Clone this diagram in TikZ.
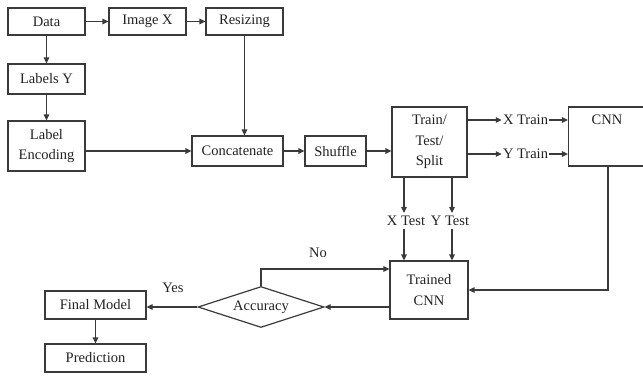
\documentclass[tikz,border=0pt]{standalone}
\usepackage{fontspec}
\setmainfont{Liberation Serif}
\usetikzlibrary{shapes.geometric,arrows.meta}
\definecolor{ln}{HTML}{3A3A3A}
\definecolor{tx}{HTML}{222222}
\begin{document}
\begin{tikzpicture}[x=1pt,y=-1pt,
  every node/.style={text=tx,font=\fontsize{14.5}{20.5}\selectfont},
  box/.style={draw=ln,line width=1.2pt,fill=white,align=center,inner sep=1pt},
  lbl/.style={inner sep=1pt},
  arr/.style={draw=ln,line width=1.2pt,-{Triangle[length=6pt,width=5.5pt]}},
  ln/.style={draw=ln,line width=1.2pt}]
\useasboundingbox (0,0) rectangle (643,376);
\node[box,minimum width=77pt,minimum height=27pt] (data) at (46.5,21.5) {Data};
\node[box,minimum width=77pt,minimum height=27pt] (imgx) at (147.5,21.5) {Image X};
\node[box,minimum width=77pt,minimum height=27pt] (resize) at (244.5,21.5) {Resizing};
\node[box,minimum width=77pt,minimum height=30pt] (laby) at (46.5,79) {Labels Y};
\node[box,minimum width=77pt,minimum height=50pt] (lenc) at (46.5,146) {Label\\Encoding};
\node[box,minimum width=91pt,minimum height=30pt] (concat) at (237.5,151) {Concatenate};
\node[box,minimum width=61pt,minimum height=30pt] (shuffle) at (335.5,151) {Shuffle};
\node[box,minimum width=75pt,minimum height=70pt] (split) at (429.5,142) {Train/\\Test/\\Split};
\node[box,minimum width=79pt,minimum height=59pt] (cnn) at (608,136.5) {};
\node[lbl] at (607,120) {CNN};
\node[lbl] (xtrain) at (525.5,120) {X Train};
\node[lbl] (ytrain) at (525.5,154) {Y Train};
\node[lbl,inner sep=3pt] (xtest) at (406,221) {X Test};
\node[lbl,inner sep=3pt] (ytest) at (450,221) {Y Test};
\node[box,minimum width=78pt,minimum height=58pt] (trained) at (429,290) {Trained\\CNN};
\node[draw=ln,line width=1.2pt,shape=diamond,aspect=3,inner sep=0pt,minimum width=126pt,minimum height=41pt] (acc) at (261,307) {Accuracy};
\node[box,minimum width=101pt,minimum height=28pt] (final) at (95.5,305) {Final Model};
\node[box,minimum width=101pt,minimum height=28pt] (pred) at (95.5,358) {Prediction};
\node[lbl] (no) at (318,253) {No};
\node[lbl] (yes) at (173,288) {Yes};
% connectors
\draw[arr] (data) -- (imgx);
\draw[arr] (imgx) -- (resize);
\draw[arr] (data) -- (laby);
\draw[arr] (laby) -- (lenc);
\draw[arr] (lenc.east |- concat.west) -- (concat.west);
\draw[arr] (resize) -- (concat.north -| resize);
\draw[arr] (concat) -- (shuffle);
\draw[arr] (shuffle.east) -- (split.west |- shuffle.east);
\draw[arr] (split.east |- xtrain) -- (xtrain.west);
\draw[arr] (split.east |- ytrain) -- (ytrain.west);
\draw[arr] (xtrain.east) -- (cnn.west |- xtrain);
\draw[arr] (ytrain.east) -- (cnn.west |- ytrain);
\coordinate (xl) at (404,0);
\coordinate (yl) at (452,0);
\draw[arr] (split.south -| xl) -- (xtest.north -| xl);
\draw[arr] (split.south -| yl) -- (ytest.north -| yl);
\draw[arr] (xtest.south -| xl) -- (trained.north -| xl);
\draw[arr] (ytest.south -| yl) -- (trained.north -| yl);
\draw[arr] (cnn.south) -- (cnn.south |- trained.east) -- (trained.east);
\draw[arr] (trained.west |- acc.east) -- (acc.east);
\draw[arr] (acc.north) -- (acc.north |- 0,269) -- (trained.west |- 0,269);
\draw[arr] (acc.west) -- (final.east |- acc.west);
\draw[arr] (final) -- (pred);
\end{tikzpicture}
\end{document}
